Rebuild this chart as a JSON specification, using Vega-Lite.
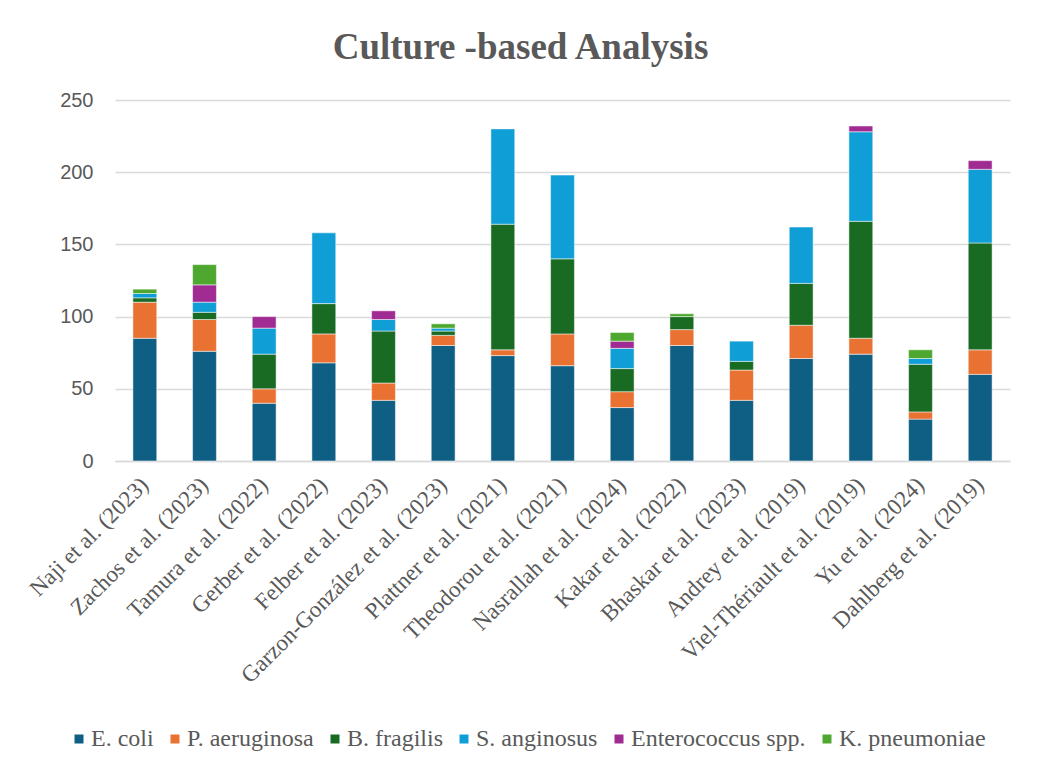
{
  "$schema": "https://vega.github.io/schema/vega-lite/v6.json",
  "autosize": "none",
  "width": 895,
  "height": 361,
  "padding": {"left": 115, "top": 100, "right": 29, "bottom": 315},
  "background": "white",
  "title": {
    "text": "Culture -based Analysis",
    "font": "Liberation Serif",
    "fontSize": 37,
    "fontWeight": "bold",
    "color": "#595959",
    "anchor": "middle",
    "frame": "group",
    "dx": -42,
    "offset": 23
  },
  "data": {
    "values": [
      {"study": "Naji et al. (2023)", "species": "E. coli", "i": 1, "n": 85},
      {"study": "Naji et al. (2023)", "species": "P. aeruginosa", "i": 2, "n": 25},
      {"study": "Naji et al. (2023)", "species": "B. fragilis", "i": 3, "n": 3},
      {"study": "Naji et al. (2023)", "species": "S. anginosus", "i": 4, "n": 3},
      {"study": "Naji et al. (2023)", "species": "K. pneumoniae", "i": 6, "n": 3},
      {"study": "Zachos et al. (2023)", "species": "E. coli", "i": 1, "n": 76},
      {"study": "Zachos et al. (2023)", "species": "P. aeruginosa", "i": 2, "n": 22},
      {"study": "Zachos et al. (2023)", "species": "B. fragilis", "i": 3, "n": 5},
      {"study": "Zachos et al. (2023)", "species": "S. anginosus", "i": 4, "n": 7},
      {"study": "Zachos et al. (2023)", "species": "Enterococcus spp.", "i": 5, "n": 12},
      {"study": "Zachos et al. (2023)", "species": "K. pneumoniae", "i": 6, "n": 14},
      {"study": "Tamura et al. (2022)", "species": "E. coli", "i": 1, "n": 40},
      {"study": "Tamura et al. (2022)", "species": "P. aeruginosa", "i": 2, "n": 10},
      {"study": "Tamura et al. (2022)", "species": "B. fragilis", "i": 3, "n": 24},
      {"study": "Tamura et al. (2022)", "species": "S. anginosus", "i": 4, "n": 18},
      {"study": "Tamura et al. (2022)", "species": "Enterococcus spp.", "i": 5, "n": 8},
      {"study": "Gerber et al. (2022)", "species": "E. coli", "i": 1, "n": 68},
      {"study": "Gerber et al. (2022)", "species": "P. aeruginosa", "i": 2, "n": 20},
      {"study": "Gerber et al. (2022)", "species": "B. fragilis", "i": 3, "n": 21},
      {"study": "Gerber et al. (2022)", "species": "S. anginosus", "i": 4, "n": 49},
      {"study": "Felber et al. (2023)", "species": "E. coli", "i": 1, "n": 42},
      {"study": "Felber et al. (2023)", "species": "P. aeruginosa", "i": 2, "n": 12},
      {"study": "Felber et al. (2023)", "species": "B. fragilis", "i": 3, "n": 36},
      {"study": "Felber et al. (2023)", "species": "S. anginosus", "i": 4, "n": 8},
      {"study": "Felber et al. (2023)", "species": "Enterococcus spp.", "i": 5, "n": 6},
      {"study": "Garzon-González et al. (2023)", "species": "E. coli", "i": 1, "n": 80},
      {"study": "Garzon-González et al. (2023)", "species": "P. aeruginosa", "i": 2, "n": 7},
      {"study": "Garzon-González et al. (2023)", "species": "B. fragilis", "i": 3, "n": 3},
      {"study": "Garzon-González et al. (2023)", "species": "S. anginosus", "i": 4, "n": 2},
      {"study": "Garzon-González et al. (2023)", "species": "K. pneumoniae", "i": 6, "n": 3},
      {"study": "Plattner et al. (2021)", "species": "E. coli", "i": 1, "n": 73},
      {"study": "Plattner et al. (2021)", "species": "P. aeruginosa", "i": 2, "n": 4},
      {"study": "Plattner et al. (2021)", "species": "B. fragilis", "i": 3, "n": 87},
      {"study": "Plattner et al. (2021)", "species": "S. anginosus", "i": 4, "n": 66},
      {"study": "Theodorou et al. (2021)", "species": "E. coli", "i": 1, "n": 66},
      {"study": "Theodorou et al. (2021)", "species": "P. aeruginosa", "i": 2, "n": 22},
      {"study": "Theodorou et al. (2021)", "species": "B. fragilis", "i": 3, "n": 52},
      {"study": "Theodorou et al. (2021)", "species": "S. anginosus", "i": 4, "n": 58},
      {"study": "Nasrallah et al. (2024)", "species": "E. coli", "i": 1, "n": 37},
      {"study": "Nasrallah et al. (2024)", "species": "P. aeruginosa", "i": 2, "n": 11},
      {"study": "Nasrallah et al. (2024)", "species": "B. fragilis", "i": 3, "n": 16},
      {"study": "Nasrallah et al. (2024)", "species": "S. anginosus", "i": 4, "n": 14},
      {"study": "Nasrallah et al. (2024)", "species": "Enterococcus spp.", "i": 5, "n": 5},
      {"study": "Nasrallah et al. (2024)", "species": "K. pneumoniae", "i": 6, "n": 6},
      {"study": "Kakar et al. (2022)", "species": "E. coli", "i": 1, "n": 80},
      {"study": "Kakar et al. (2022)", "species": "P. aeruginosa", "i": 2, "n": 11},
      {"study": "Kakar et al. (2022)", "species": "B. fragilis", "i": 3, "n": 9},
      {"study": "Kakar et al. (2022)", "species": "K. pneumoniae", "i": 6, "n": 2},
      {"study": "Bhaskar et al. (2023)", "species": "E. coli", "i": 1, "n": 42},
      {"study": "Bhaskar et al. (2023)", "species": "P. aeruginosa", "i": 2, "n": 21},
      {"study": "Bhaskar et al. (2023)", "species": "B. fragilis", "i": 3, "n": 6},
      {"study": "Bhaskar et al. (2023)", "species": "S. anginosus", "i": 4, "n": 14},
      {"study": "Andrey et al. (2019)", "species": "E. coli", "i": 1, "n": 71},
      {"study": "Andrey et al. (2019)", "species": "P. aeruginosa", "i": 2, "n": 23},
      {"study": "Andrey et al. (2019)", "species": "B. fragilis", "i": 3, "n": 29},
      {"study": "Andrey et al. (2019)", "species": "S. anginosus", "i": 4, "n": 39},
      {"study": "Viel-Thériault et al. (2019)", "species": "E. coli", "i": 1, "n": 74},
      {"study": "Viel-Thériault et al. (2019)", "species": "P. aeruginosa", "i": 2, "n": 11},
      {"study": "Viel-Thériault et al. (2019)", "species": "B. fragilis", "i": 3, "n": 81},
      {"study": "Viel-Thériault et al. (2019)", "species": "S. anginosus", "i": 4, "n": 62},
      {"study": "Viel-Thériault et al. (2019)", "species": "Enterococcus spp.", "i": 5, "n": 4},
      {"study": "Yu et al. (2024)", "species": "E. coli", "i": 1, "n": 29},
      {"study": "Yu et al. (2024)", "species": "P. aeruginosa", "i": 2, "n": 5},
      {"study": "Yu et al. (2024)", "species": "B. fragilis", "i": 3, "n": 33},
      {"study": "Yu et al. (2024)", "species": "S. anginosus", "i": 4, "n": 4},
      {"study": "Yu et al. (2024)", "species": "K. pneumoniae", "i": 6, "n": 6},
      {"study": "Dahlberg et al. (2019)", "species": "E. coli", "i": 1, "n": 60},
      {"study": "Dahlberg et al. (2019)", "species": "P. aeruginosa", "i": 2, "n": 17},
      {"study": "Dahlberg et al. (2019)", "species": "B. fragilis", "i": 3, "n": 74},
      {"study": "Dahlberg et al. (2019)", "species": "S. anginosus", "i": 4, "n": 51},
      {"study": "Dahlberg et al. (2019)", "species": "Enterococcus spp.", "i": 5, "n": 6}
    ]
  },
  "mark": {"type": "bar", "stroke": "white", "strokeWidth": 0.5},
  "encoding": {
    "x": {
      "field": "study",
      "type": "nominal",
      "sort": null,
      "scale": {"paddingInner": 0.6, "paddingOuter": 0.3},
      "axis": {
        "title": null,
        "labelAngle": -45,
        "labelAlign": "right",
        "labelBaseline": "middle",
        "labelFont": "Liberation Serif",
        "labelFontSize": 23,
        "labelColor": "#595959",
        "labelPadding": 20,
        "labelLimit": 400,
        "ticks": false,
        "domainColor": "#D9D9D9",
        "domainWidth": 1.5
      }
    },
    "y": {
      "field": "n",
      "type": "quantitative",
      "stack": "zero",
      "scale": {"domain": [0, 250], "nice": false},
      "axis": {
        "title": null,
        "values": [0, 50, 100, 150, 200, 250],
        "labelFont": "Liberation Sans",
        "labelFontSize": 20,
        "labelColor": "#595959",
        "labelPadding": 22,
        "ticks": false,
        "domain": false,
        "gridColor": "#D9D9D9",
        "gridWidth": 1.5
      }
    },
    "color": {
      "field": "species",
      "type": "nominal",
      "scale": {
        "domain": ["E. coli", "P. aeruginosa", "B. fragilis", "S. anginosus", "Enterococcus spp.", "K. pneumoniae"],
        "range": ["#0F5F85", "#E97132", "#196B24", "#0F9ED5", "#A02B93", "#4EA72E"]
      },
      "legend": {
        "title": null,
        "orient": "none",
        "direction": "horizontal",
        "legendX": -48,
        "legendY": 627,
        "symbolType": "square",
        "symbolSize": 81,
        "symbolStrokeWidth": 0,
        "labelFont": "Liberation Serif",
        "labelFontSize": 24,
        "labelColor": "#595959",
        "labelOffset": 0,
        "columnPadding": 9,
        "labelLimit": 300
      }
    },
    "order": {"field": "i", "type": "quantitative", "sort": "ascending"}
  },
  "config": {
    "view": {"stroke": null}
  }
}
